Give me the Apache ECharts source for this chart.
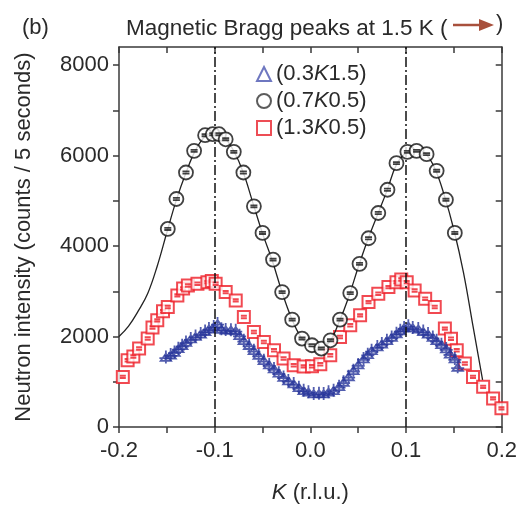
<!DOCTYPE html>
<html><head><meta charset="utf-8">
<script src="https://cdn.jsdelivr.net/npm/echarts@6/dist/echarts.min.js"></script>
<style>html,body{margin:0;padding:0;background:#fff}#c{width:520px;height:510px}</style>
</head><body><div id="c"></div>
<script>
// ---- data (K in r.l.u., intensity in counts / 5 s) ----
const seriesNames = ['(0.3K1.5)', '(0.7K0.5)', '(1.3K0.5)'];
const xTicks = [-0.2, -0.1, 0.0, 0.1, 0.2];
const yTickLabels = [0, 2000, 4000, 6000, 8000];
const yTicks = [0, 1000, 2000, 3000, 4000, 5000, 6000, 7000, 8000];
const refLines = [-0.1, 0.1];

const blueK = [-0.151,-0.146,-0.142,-0.138,-0.134,-0.130,-0.125,-0.120,-0.1146,-0.110,-0.106,-0.101,-0.097,-0.093,-0.0885,-0.083,-0.078,-0.074,-0.0695,-0.064,-0.059,-0.054,-0.0486,-0.043,-0.038,-0.033,-0.028,-0.023,-0.0174,-0.012,-0.007,-0.002,0.0035,0.009,0.0139,0.019,0.0243,0.030,0.0347,0.040,0.045,0.050,0.0556,0.060,0.064,0.070,0.0747,0.080,0.085,0.090,0.094,0.098,0.1024,0.107,0.1128,0.118,0.123,0.128,0.132,0.137,0.142,0.146,0.151,0.154];
const blueI = [1550,1600,1660,1740,1807,1880,1955,2010,2065,2120,2175,2220,2290,2170,2153,2150,2137,2030,1917,1810,1697,1590,1476,1380,1293,1200,1108,1030,963,880,815,780,743,745,743,780,815,900,998,1120,1256,1380,1513,1610,1697,1780,1844,1920,1990,2070,2137,2200,2240,2200,2175,2120,2065,1990,1917,1830,1734,1620,1513,1330];

const blackK = [-0.149,-0.140,-0.130,-0.1215,-0.110,-0.102,-0.0955,-0.0885,-0.080,-0.070,-0.059,-0.050,-0.039,-0.0295,-0.019,-0.0087,0.0017,0.0115,0.021,0.031,0.0417,0.0514,0.0608,0.071,0.0806,0.090,0.1014,0.111,0.1215,0.132,0.1417,0.151];
const blackI = [4378,5040,5626,6104,6450,6472,6472,6360,6082,5626,4877,4290,3700,2982,2373,1955,1807,1734,1917,2373,2960,3607,4172,4731,5245,5833,6082,6104,6031,5663,5024,4290];

const redK = [-0.196,-0.191,-0.185,-0.179,-0.170,-0.165,-0.160,-0.154,-0.149,-0.139,-0.133,-0.128,-0.118,-0.1076,-0.103,-0.099,-0.0885,-0.078,-0.0695,-0.059,-0.0486,-0.038,-0.028,-0.0174,-0.007,0.0017,0.0104,0.0208,0.031,0.0417,0.052,0.0608,0.071,0.0816,0.090,0.095,0.1007,0.109,0.120,0.130,0.1406,0.147,0.153,0.1615,0.170,0.1806,0.191,0.1997];
const redI = [1108,1476,1560,1734,1955,2200,2358,2560,2651,2909,3060,3129,3166,3202,3230,3166,2982,2799,2431,2100,1880,1697,1513,1366,1340,1344,1388,1587,1990,2248,2468,2761,2946,3092,3202,3260,3202,3019,2836,2651,2175,1950,1697,1403,1108,888,632,412];

const fitK = [-0.200,-0.190,-0.180,-0.170,-0.160,-0.150,-0.140,-0.130,-0.120,-0.110,-0.100,-0.090,-0.080,-0.070,-0.060,-0.050,-0.040,-0.030,-0.020,-0.010,0.000,0.010,0.020,0.030,0.040,0.050,0.060,0.070,0.080,0.090,0.100,0.110,0.120,0.130,0.140,0.150,0.160,0.170,0.180];
const fitI = [2000,2230,2560,2950,3560,4300,5020,5620,6120,6420,6500,6400,6100,5620,4950,4280,3690,3010,2420,1990,1790,1750,1880,2320,2870,3530,4140,4680,5220,5800,6060,6120,6050,5720,5120,4360,3420,2230,1040];

const zip = (a, b) => a.map((v, i) => [v, b[i]]);
const FONT = "'Liberation Sans', Arial, Helvetica, sans-serif";
const TXT = '#2a2a2a';
const AX = '#3a3a3a';

const richName = n => {
  const m = n.match(/^\((\d\.\d)K(\d\.\d)\)$/);
  return '{n|(' + m[1] + '}{k|K}{n|' + m[2] + ')}';
};

const chart = echarts.init(document.getElementById('c'));
chart.setOption({
  animation: false,
  backgroundColor: '#fff',
  title: [
    { text: '(b)', left: 17, top: 12, textStyle: { fontFamily: FONT, fontSize: 22, fontWeight: 'normal', color: TXT } },
    { text: 'Magnetic Bragg peaks at 1.5 K (', left: 121, top: 12, textStyle: { fontFamily: FONT, fontSize: 22.5, fontWeight: 'normal', color: TXT } }
  ],
  graphic: [
    { type: 'line', shape: { x1: 453, y1: 25, x2: 482, y2: 25 }, style: { stroke: '#a8503c', lineWidth: 2.5 } },
    { type: 'polygon', shape: { points: [[479, 19], [494, 25], [479, 31]] }, style: { fill: '#a8503c' } },
    { type: 'text', left: 496, top: 13, style: { text: ')', font: "22px 'Liberation Sans', Arial", fill: TXT } }
  ],
  legend: {
    orient: 'vertical', left: 251, top: 57, itemWidth: 14, itemHeight: 14, itemGap: 3,
    data: [
      { name: seriesNames[0], icon: 'triangle', itemStyle: { color: '#fff', borderColor: '#4a55b0', borderWidth: 2 } },
      { name: seriesNames[1], icon: 'circle', itemStyle: { color: '#fff', borderColor: '#333', borderWidth: 2 } },
      { name: seriesNames[2], icon: 'rect', itemStyle: { color: '#fff', borderColor: '#e8202a', borderWidth: 2 } }
    ],
    formatter: richName,
    textStyle: {
      fontFamily: FONT, fontSize: 22, color: TXT, lineHeight: 24,
      rich: { n: { fontFamily: FONT, fontSize: 22, color: TXT }, k: { fontFamily: FONT, fontSize: 22, fontStyle: 'italic', color: TXT } }
    }
  },
  grid: { left: 119, right: 18, top: 47, bottom: 83 },
  xAxis: [
    {
      type: 'value', min: -0.2, max: 0.2, interval: 0.1, position: 'bottom',
      name: '{i|K}{n| (r.l.u.)}', nameLocation: 'middle', nameGap: 55,
      nameTextStyle: { rich: { i: { fontFamily: FONT, fontSize: 22, fontStyle: 'italic', color: TXT }, n: { fontFamily: FONT, fontSize: 22, color: TXT } } },
      axisLine: { show: true, onZero: false, lineStyle: { color: AX, width: 1.5 } },
      axisTick: { show: true, inside: false, length: 6, lineStyle: { color: AX, width: 1.5 } },
      minorTick: { show: true, splitNumber: 2, length: 6, lineStyle: { color: AX, width: 1.5 } },
      splitLine: { show: false },
      axisLabel: { margin: 13, fontFamily: FONT, fontSize: 22, color: TXT, formatter: v => v.toFixed(1), customValues: xTicks }
    },
    {
      type: 'value', min: -0.2, max: 0.2, interval: 0.05, position: 'top',
      axisLine: { show: true, onZero: false, lineStyle: { color: AX, width: 1.5 } },
      axisTick: { show: true, inside: true, length: 6, lineStyle: { color: AX, width: 1.5 } },
      axisLabel: { show: false }, splitLine: { show: false }
    }
  ],
  yAxis: [
    {
      type: 'value', min: 0, max: 8400, interval: 1000, position: 'left',
      name: 'Neutron intensity (counts / 5 seconds)', nameLocation: 'middle', nameGap: 84,
      nameTextStyle: { fontFamily: FONT, fontSize: 22, color: TXT },
      axisLine: { show: true, onZero: false, lineStyle: { color: AX, width: 1.5 } },
      axisTick: { show: true, inside: false, length: 6, lineStyle: { color: AX, width: 1.5 }, customValues: yTicks },
      splitLine: { show: false },
      axisLabel: { margin: 10, fontFamily: FONT, fontSize: 22, color: TXT, customValues: yTickLabels, formatter: v => String(v) }
    },
    {
      type: 'value', min: 0, max: 8400, interval: 1000, position: 'right',
      axisLine: { show: true, onZero: false, lineStyle: { color: AX, width: 1.5 } },
      axisTick: { show: true, inside: true, length: 6, lineStyle: { color: AX, width: 1.5 }, customValues: yTicks },
      axisLabel: { show: false }, splitLine: { show: false }
    }
  ],
  series: [
    {
      name: seriesNames[2], type: 'scatter', data: zip(redK, redI), z: 2,
      symbol: 'path://M0,0H20V20H0Z M5,8H15 M5,12H15', symbolSize: 12,
      itemStyle: { color: '#fff', borderColor: '#ee1c25', borderWidth: 2 }
    },
    {
      name: seriesNames[0], type: 'scatter', data: zip(blueK, blueI), z: 3,
      symbol: 'path://M10,3L18,17H2Z M10,-3V22 M0,12H20', symbolSize: 13,
      itemStyle: { color: 'rgba(255,255,255,0)', borderColor: '#27349a', borderWidth: 1.8 }
    },
    {
      name: 'fit', type: 'line', data: zip(fitK, fitI), smooth: 0.4, showSymbol: false, z: 4,
      lineStyle: { color: '#222', width: 1.3 },
      markLine: {
        silent: true, symbol: 'none', label: { show: false },
        lineStyle: { color: '#111', type: [10, 3, 2, 3], width: 1.5 },
        data: refLines.map(v => ({ xAxis: v }))
      }
    },
    {
      name: seriesNames[1], type: 'scatter', data: zip(blackK, blackI), z: 5,
      symbol: 'path://M0,10A10,10,0,1,1,20,10A10,10,0,1,1,0,10Z M5,8.5H15 M5,11.5H15', symbolSize: 14,
      itemStyle: { color: '#fff', borderColor: '#111', borderWidth: 1.8 }
    }
  ]
});
</script></body></html>
